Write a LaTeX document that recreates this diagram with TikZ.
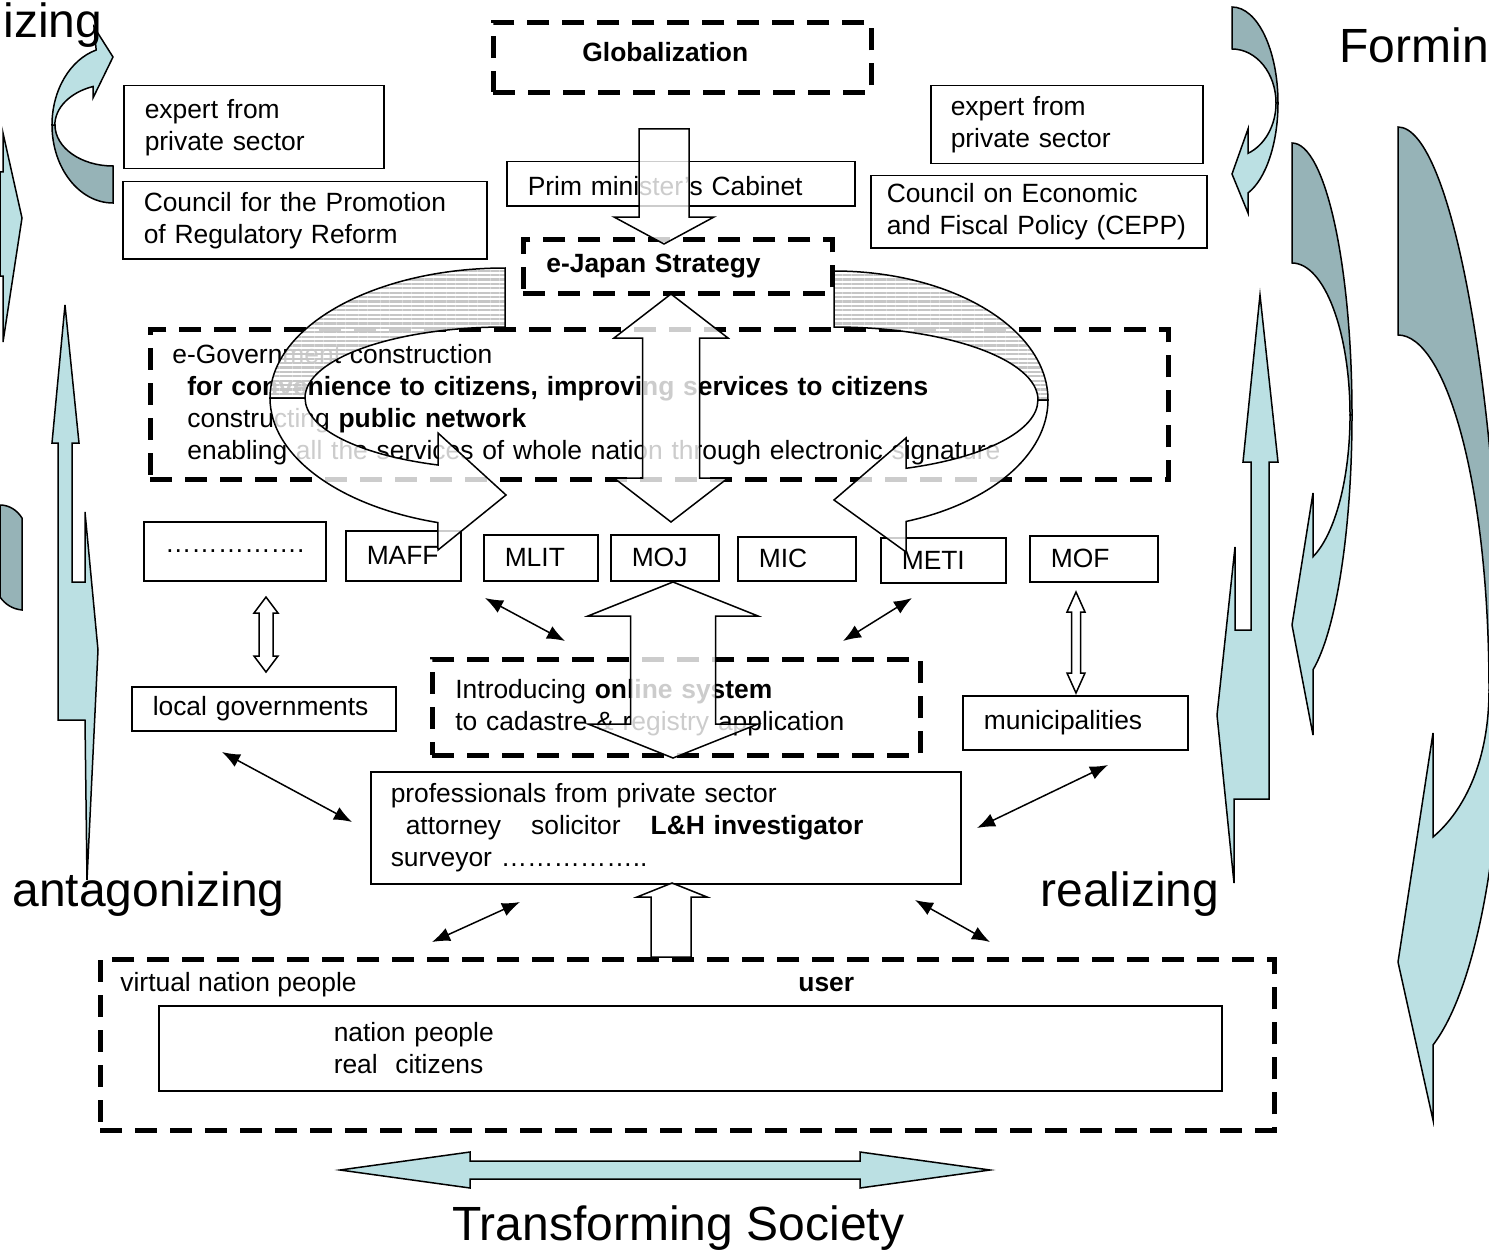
\documentclass[tikz,border=0pt]{standalone}
\usepackage{fontspec}
\setmainfont{Liberation Sans}
\usetikzlibrary{arrows.meta,patterns.meta}

\definecolor{lightteal}{HTML}{BBE0E3}
\definecolor{darkteal}{HTML}{96B3B7}

\tikzset{
  every node/.style={font=\fontsize{13.2}{16}\selectfont, inner sep=0pt},
  box/.style={draw, line width=0.75pt, align=left, anchor=north west, inner xsep=10.5pt, inner ysep=0pt},
  dbox/.style={box, line width=2.4pt, dash pattern=on 11pt off 6.5pt},
  bigword/.style={font=\fontsize{24}{28}\selectfont, anchor=base west},
  tealfront/.style={draw, line width=0.75pt, fill=lightteal},
  tealback/.style={draw, line width=0.75pt, fill=darkteal},
  blockarrow/.style={draw, line width=0.75pt, fill=white, fill opacity=0.8},
  hatchback/.style={draw, line width=0.75pt, preaction={fill=white, fill opacity=0.8},
    pattern={Lines[angle=0, distance=2.2pt, line width=1.1pt]}, pattern color=gray!45},
  link/.style={line width=0.75pt, <->, >={Latex[length=9pt, width=7pt]}}
}

\newcommand{\vdouble}[6]{%
  \draw[blockarrow] (#1,#2) -- ({#1+#4},{#2+#5}) -- ({#1+#6},{#2+#5}) -- ({#1+#6},{#3-#5})
    -- ({#1+#4},{#3-#5}) -- (#1,#3) -- ({#1-#4},{#3-#5}) -- ({#1-#6},{#3-#5})
    -- ({#1-#6},{#2+#5}) -- ({#1-#4},{#2+#5}) -- cycle;}

\begin{document}
\begin{tikzpicture}[x=0.5pt, y=-0.5pt]
\useasboundingbox (0,0) rectangle (1489,1252);
\clip (0,0) rectangle (1489,1252);

% left side
\draw[tealback] (113,203) arc[start angle=90, end angle=180, x radius=61, y radius=78] -- (55,125) arc[start angle=180, end angle=90, x radius=58, y radius=41] -- cycle;
\draw[tealfront] (52,125) arc[start angle=180, end angle=254, x radius=61, y radius=78] -- (94,27) -- (113,57) -- (93,98) -- (93,86.5) arc[start angle=250, end angle=180, x radius=58, y radius=41] -- cycle;
\draw[tealfront] (0,172) -- (3,172) -- (3,133) -- (22,218) -- (3,342) -- (3,276) -- (0,276) -- cycle;
\draw[tealback] (0,505) .. controls (9,505) and (17,510) .. (22,518) -- (22,610) .. controls (12,609) and (5,604) .. (0,597) -- cycle;
\draw[tealfront] (65,305) -- (79,443) -- (72,443) -- (72,582) -- (85,582) -- (85,512) -- (98,650) -- (87,880) -- (85,720) -- (58,720) -- (58,443) -- (52,443) -- cycle;

% right side
\draw[tealback] (1232,7) arc[start angle=-90, end angle=0, x radius=46, y radius=96] -- (1276,103) arc[start angle=0, end angle=-90, x radius=44, y radius=54] -- cycle;
\draw[tealfront] (1278,103) arc[start angle=0, end angle=69.6, x radius=46, y radius=96] -- (1248,213) -- (1232,174) -- (1248,129) -- (1248,153.3) arc[start angle=68.7, end angle=0, x radius=44, y radius=54] -- cycle;
\draw[tealfront] (1260,295) -- (1278,462) -- (1269,462) -- (1269,799) -- (1234,799) -- (1234,883) -- (1217,715) -- (1235,547) -- (1235,630) -- (1251,630) -- (1251,462) -- (1243,462) -- cycle;
\draw[tealback] (1292,143) arc[start angle=-90, end angle=0, x radius=60, y radius=272] -- (1350,415) arc[start angle=0, end angle=-90, x radius=58, y radius=152] -- cycle;
\draw[tealfront] (1352,415) arc[start angle=0, end angle=69.5, x radius=60, y radius=272] -- (1313,735) -- (1292,625) -- (1313,493) -- (1313,556.7) arc[start angle=68.8, end angle=0, x radius=58, y radius=152] -- cycle;
\draw[tealback] (1398,127) .. controls (1452,127) and (1500,400) .. (1502,690) -- (1489,690) .. controls (1489,480) and (1445,335) .. (1398,335) -- cycle;
\draw[tealfront] (1502,690) .. controls (1502,850) and (1475,990) .. (1433,1045) -- (1433,1120) -- (1398,962) -- (1433,733) -- (1433,837) .. controls (1465,810) and (1489,760) .. (1489,690) -- cycle;
\draw[tealfront] (340,1170) -- (470,1152) -- (470,1161) -- (860,1161) -- (860,1152) -- (990,1170) -- (860,1188) -- (860,1179) -- (470,1179) -- (470,1188) -- cycle;

\node[bigword, text height=17pt] (izing) at (3,38) {izing};
\node[bigword] (forming) at (1339,63) {Formin};
\node[bigword] (antag) at (12,906) {antagonizing};
\node[bigword] (realiz) at (1040,906) {realizing};
\node[bigword] (transf) at (452,1240) {Transforming Society};

% boxes
\node[dbox, inner xsep=44.5pt, text width=100pt, minimum height=35pt] (glob) at (491,20) {\raisebox{5pt}{\textbf{Globalization}}};
\node[box, text width=109pt, minimum height=41.5pt] (expL) at (123,85) {expert from\\private sector};
\node[box, text width=161pt, minimum height=38.5pt] (cprr) at (122,181) {Council for the Promotion\\of Regulatory Reform};
\node[box, inner xsep=10pt, text width=116pt, minimum height=39pt] (expR) at (930,85) {expert from\\private sector};
\node[box, inner xsep=8pt, text width=152pt, minimum height=36pt] (cepp) at (870,175) {Council on Economic\\and Fiscal Policy (CEPP)};
\node[box, text width=153pt, text height=12.6pt, text depth=0.8pt, minimum height=22pt] (cabinet) at (506,161) {Prim minister's Cabinet};
\node[dbox, inner xsep=11.5pt, text width=131.5pt, minimum height=27pt] (ejapan) at (521,237) {\textbf{e-Japan Strategy}};
\node[dbox, inner xsep=11pt, text width=487pt, minimum height=75pt] (egov) at (148,327) {e-Government construction\\
  \hspace*{7.5pt}\textbf{for convenience to citizens, improving services to citizens}\\
  \hspace*{7.5pt}constructing \textbf{public network}\\
  \hspace*{7.5pt}enabling all the services of whole nation through electronic signature};

\node[box, inner xsep=0pt, align=center, text width=91pt, minimum height=29.5pt] (misc) at (143,521) {…………….};
\node[box, text width=36.5pt, minimum height=25pt] (maff) at (345,530) {MAFF};
\node[box, text width=36pt, minimum height=23pt] (mlit) at (483,534) {MLIT};
\node[box, text width=33pt, minimum height=23pt] (moj) at (610,534) {MOJ};
\node[box, text width=38pt, minimum height=22pt] (mic) at (737,536) {MIC};
\node[box, text width=41.5pt, minimum height=22.5pt] (meti) at (880,537) {METI};
\node[box, text width=43pt, minimum height=23pt] (mof) at (1029,535) {MOF};

\node[box, text width=111pt, minimum height=22pt] (localgov) at (131,686) {local governments};
\node[dbox, inner xsep=11.5pt, text width=221pt, minimum height=48pt] (online) at (430,657) {Introducing \textbf{online system}\\to cadastre \& registry application};
\node[box, text width=91.5pt, minimum height=27pt] (munic) at (962,695) {municipalities};
\node[box, inner xsep=10pt, text width=275pt, minimum height=56pt] (prof) at (370,771) {professionals from private sector\\
  \hspace*{7.5pt}attorney\hspace{15pt}solicitor\hspace{15pt}\textbf{L\&H investigator}\\
  surveyor ……………..};

\node[dbox, minimum width=587pt, minimum height=85.5pt] (user) at (98,957) {};
\node[anchor=west] (vnp) at (120,985) {virtual nation people};
\node[anchor=west] (userlbl) at (798,985) {\textbf{user}};
\node[box, inner xsep=87.5pt, text width=356.5pt, minimum height=42.5pt] (citizens) at (158,1005) {nation people\\real\ \ citizens};

% block arrows
\draw[blockarrow] (639,129) -- (689,129) -- (689,217) -- (714,217) -- (664,244) -- (614,217) -- (639,217) -- cycle;
\vdouble{671}{294}{522}{57}{44}{28.5}
\vdouble{673}{582}{758}{85}{34}{42.5}
\vdouble{266}{597}{672}{12}{16}{7}
\vdouble{1076}{592}{693}{9}{20}{4.5}
\draw[blockarrow] (672,883) -- (707,897) -- (691,897) -- (691,957) -- (651,957) -- (651,897) -- (637,897) -- cycle;

\draw[hatchback] (505,268) arc[start angle=-90, end angle=-180, x radius=235, y radius=130] -- (305,398) arc[start angle=180, end angle=270, x radius=200, y radius=71] -- cycle;
\draw[blockarrow] (270,398) arc[start angle=180, end angle=106.6, x radius=235, y radius=130] -- (438,550) -- (506,495) -- (438,433) -- (438,465) arc[start angle=109.6, end angle=180, x radius=200, y radius=71] -- cycle;
\draw[hatchback] (834,271) arc[start angle=-90, end angle=0, x radius=214, y radius=129] -- (1038,400) arc[start angle=0, end angle=-90, x radius=204, y radius=73] -- cycle;
\draw[blockarrow] (1048,400) arc[start angle=0, end angle=70.3, x radius=214, y radius=129] -- (906,552) -- (834,500) -- (906,438) -- (906,468.3) arc[start angle=69.3, end angle=0, x radius=204, y radius=73] -- cycle;

% links
\coordinate (mlitTip) at (485,598);
\coordinate (onlTipL) at (565,641);
\coordinate (metiTip) at (912,598);
\coordinate (onlTipR) at (843,641);
\coordinate (lgTip) at (222,752);
\coordinate (profTipL) at (352,822);
\coordinate (munTip) at (1108,765);
\coordinate (profTipR) at (977,828);
\coordinate (profTipBL) at (520,902);
\coordinate (userTipL) at (432,942);
\coordinate (profTipBR) at (915,900);
\coordinate (userTipR) at (990,942);
\draw[link] (mlitTip) -- (onlTipL);
\draw[link] (metiTip) -- (onlTipR);
\draw[link] (lgTip) -- (profTipL);
\draw[link] (munTip) -- (profTipR);
\draw[link] (profTipBL) -- (userTipL);
\draw[link] (profTipBR) -- (userTipR);
\end{tikzpicture}
\end{document}
